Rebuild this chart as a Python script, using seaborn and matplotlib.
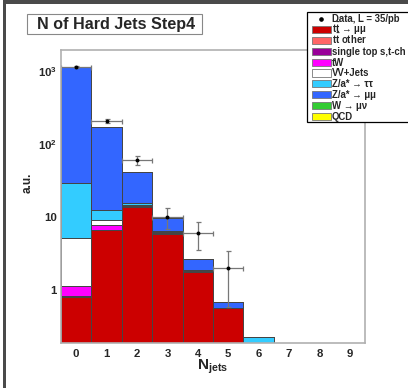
import numpy as np
import pandas as pd
import matplotlib
matplotlib.use("Agg")
import matplotlib.pyplot as plt
import seaborn as sns
from matplotlib.patches import Rectangle
from matplotlib.lines import Line2D
from matplotlib.ticker import FixedLocator, LogLocator, NullFormatter, MultipleLocator

# ---------------- data ----------------
njets = [0, 1, 2, 3, 4, 5, 6, 7, 8, 9]
tt_mumu = [0.80, 6.6, 13.5, 5.9, 1.78, 0.56, 0, 0, 0, 0]
tt_other = [0.02, 0.08, 0.15, 0.12, 0.03, 0.005, 0, 0, 0, 0]
single_top = [0.01, 0.04, 0.06, 0.05, 0.01, 0, 0, 0, 0, 0]
tw = [0.29, 1.0, 0.55, 0.12, 0.02, 0, 0, 0, 0, 0]
vv_jets = [4.1, 1.5, 0.4, 0.1, 0.02, 0, 0, 0, 0, 0]
z_tautau = [23.8, 3.4, 0.7, 0.05, 0.02, 0, 0.23, 0, 0, 0]
z_mumu = [1120, 156, 25.6, 3.4, 0.75, 0.11, 0, 0, 0, 0]
w_munu = [0, 0, 0, 0, 0, 0, 0, 0, 0, 0]
qcd = [0, 0, 0, 0, 0, 0, 0, 0, 0, 0]

data_x = [0, 1, 2, 3, 4, 5]
data_y = [1130, 209, 60, 10, 6, 2]
data_err = [33.6, 14.5, 7.7, 3.2, 2.45, 1.41]

labels = ["t$\\bar{\\mathbf{t}}$ → μμ", "t$\\bar{\\mathbf{t}}$ other", "single top s,t-ch", "tW",
          "VV+Jets", "Z/a* → ττ", "Z/a* → μμ", "W → μν", "QCD"]
series = [tt_mumu, tt_other, single_top, tw, vv_jets, z_tautau, z_mumu, w_munu, qcd]
colors = ["#cc0000", "#ff6666", "#990099", "#ff00ff", "#ffffff",
          "#33ccff", "#3366ff", "#33cc33", "#ffff00"]
data_label = "Data, L = 35/pb"

xtick_vals = [0, 1, 2, 3, 4, 5, 6, 7, 8, 9]
ytick_vals = [1, 10, 100, 1000]
ytick_labels = ["1", "10", r"$\mathbf{10^{2}}$", r"$\mathbf{10^{3}}$"]

# ---------------- style ----------------
sns.set_style("white")
plt.rcParams["font.family"] = ["Liberation Sans", "DejaVu Sans"]
plt.rcParams["font.weight"] = "bold"
plt.rcParams["mathtext.fontset"] = "custom"
plt.rcParams["mathtext.rm"] = "Liberation Sans:bold"
plt.rcParams["mathtext.bf"] = "Liberation Sans:bold"
plt.rcParams["mathtext.it"] = "Liberation Sans:bold"
plt.rcParams["mathtext.default"] = "bf"

W, H = 408, 388
fig = plt.figure(figsize=(W / 100, H / 100), dpi=100)
fig.patch.set_facecolor("white")
ax = fig.add_axes([61 / W, 1 - 343 / H, (365 - 61) / W, (343 - 50) / H])

rows = []
for lab, vals in zip(labels, series):
    for x, v in zip(njets, vals):
        rows.append({"njets": x, "weight": v, "sample": lab})
df = pd.DataFrame(rows)

palette = dict(zip(labels, colors))
hue_order = labels[::-1]  # seaborn stacks first level on top

sns.histplot(data=df, x="njets", weights="weight", hue="sample", hue_order=hue_order,
             multiple="stack", discrete=True, palette=palette, alpha=1,
             edgecolor="#444444", linewidth=0.7, legend=False, ax=ax)

ax.set_yscale("log")
ax.errorbar(data_x, data_y, yerr=data_err, xerr=0.5, fmt="none", ecolor="#777777",
            elinewidth=0.9, capsize=1.8, capthick=0.9, zorder=4)
sns.scatterplot(x=data_x, y=data_y, color="black", s=8, linewidth=0, ax=ax, zorder=5)

ax.set_xlim(-0.5, 9.5)
ax.set_ylim(0.188, 1940)
ax.set_xlabel("")
ax.set_ylabel("")
ax.set_axisbelow(False)

ax.xaxis.set_major_locator(FixedLocator(xtick_vals))
ax.xaxis.set_minor_locator(MultipleLocator(0.2))
ax.set_xticklabels([str(v) for v in xtick_vals])
ax.yaxis.set_major_locator(FixedLocator(ytick_vals))
ax.set_yticklabels(ytick_labels)
ax.yaxis.set_minor_locator(LogLocator(base=10, subs=np.arange(2, 10)))
ax.yaxis.set_minor_formatter(NullFormatter())

ax.tick_params(which="both", direction="in", top=False, right=False, color="#222222",
               labelsize=8.2, width=0.8)
ax.tick_params(which="major", length=6)
ax.tick_params(which="minor", length=3)
ax.tick_params(axis="x", pad=4)
ax.tick_params(axis="y", pad=3)
for lab in ax.get_xticklabels() + ax.get_yticklabels():
    lab.set_fontweight("bold")

for sp in ax.spines.values():
    sp.set_color("#b0b0b0")
    sp.set_linewidth(1.2)
    sp.set_zorder(6)

# axis labels
fig.text(213 / W, 1 - 367 / H, r"$\mathbf{N_{jets}}$", fontsize=11, ha="center", va="center")
fig.text(28 / W, 1 - 183 / H, "a.u.", fontsize=8.5, fontweight="bold", rotation=90,
         ha="center", va="center")

# title box
fig.add_artist(Rectangle((26.7 / W, 1 - 34 / H), 175.3 / W, 20 / H, transform=fig.transFigure,
                         facecolor="white", edgecolor="#888888", linewidth=0.8))
fig.text(37 / W, 1 - 24.5 / H, "N of Hard Jets Step4", fontsize=11.6, fontweight="bold",
         ha="left", va="center")

# canvas bevel
fig.add_artist(Rectangle((3 / W, 1 - 4 / H), 405 / W, 4 / H, transform=fig.transFigure,
                         facecolor="#4a4a4a", edgecolor="none"))
fig.add_artist(Rectangle((3 / W, 0), 3 / W, 1, transform=fig.transFigure,
                         facecolor="#4a4a4a", edgecolor="none"))

# legend (ROOT-style TLegend box, drawn manually)
lx0, ly0, ly1 = 306.7, 11.7, 122.3
fig.add_artist(Rectangle((lx0 / W, 1 - ly1 / H), (W + 5 - lx0) / W, (ly1 - ly0) / H,
                         transform=fig.transFigure, facecolor="white", edgecolor="black",
                         linewidth=0.9, zorder=10))
row0, dy = 19.0, 10.8
sw_x0, sw_w, sw_h = 311.7, 19.0, 7.3
tx = 332.0
fs = 6.9
fig.add_artist(Line2D([(sw_x0 + sw_w / 2) / W], [1 - row0 / H], marker="o", markersize=2.3,
                      color="black", linestyle="none", transform=fig.transFigure, zorder=11))
fig.text(tx / W, 1 - (row0 + 3.5) / H, data_label, fontsize=fs, fontweight="bold",
         ha="left", va="baseline", zorder=11)
for i, (lab, c) in enumerate(zip(labels, colors)):
    yc = row0 + dy * (i + 1)
    fig.add_artist(Rectangle((sw_x0 / W, 1 - (yc + sw_h / 2) / H), sw_w / W, sw_h / H,
                             transform=fig.transFigure, facecolor=c, edgecolor="#777777",
                             linewidth=0.6, zorder=11))
    fig.text(tx / W, 1 - (yc + 3.5) / H, lab, fontsize=fs, fontweight="bold",
             ha="left", va="baseline", zorder=11)

fig.savefig("out.png", dpi=100)
